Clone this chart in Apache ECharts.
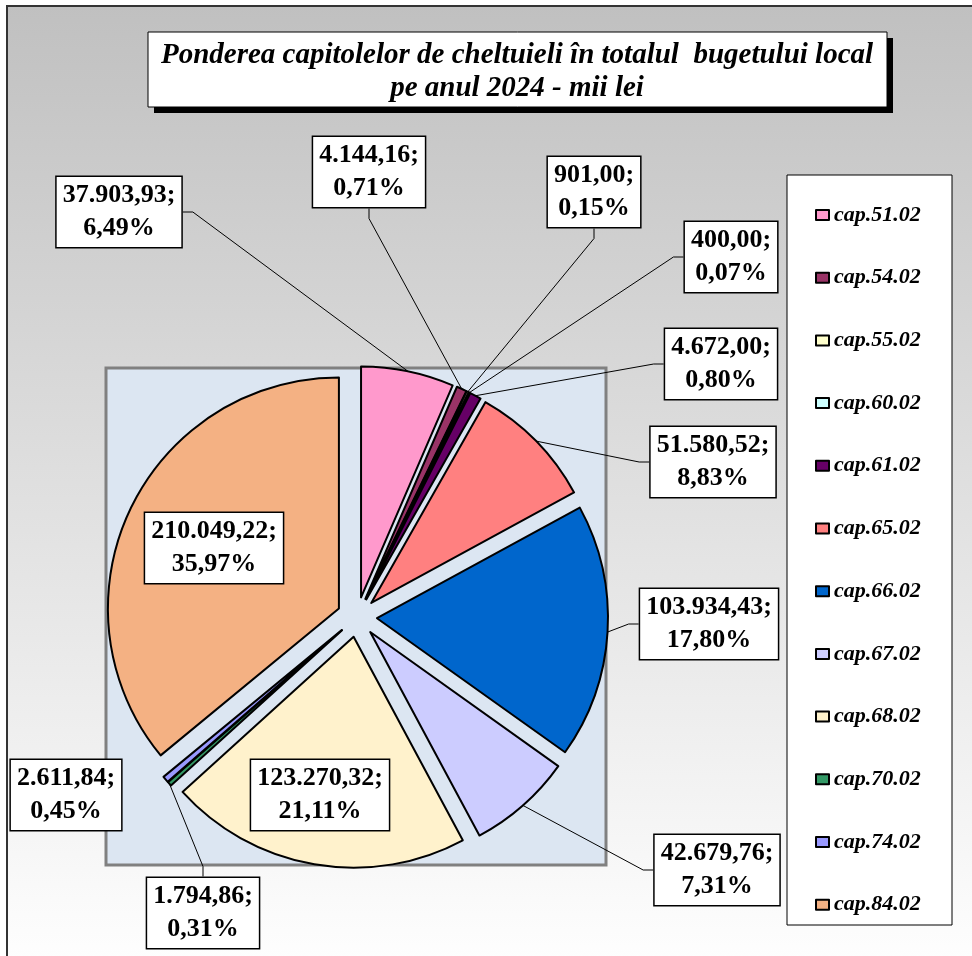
<!DOCTYPE html>
<html>
<head>
<meta charset="utf-8">
<style>
  html, body { margin: 0; padding: 0; background: #fff; }
  #chart { width: 972px; height: 956px; }
</style>
<script src="https://cdn.jsdelivr.net/npm/echarts@6/dist/echarts.min.js"></script>
</head>
<body>
<div id="chart"></div>
<script>
// capitole de cheltuieli, mii lei
const categories = ['cap.51.02', 'cap.54.02', 'cap.55.02', 'cap.60.02', 'cap.61.02', 'cap.65.02',
  'cap.66.02', 'cap.67.02', 'cap.68.02', 'cap.70.02', 'cap.74.02', 'cap.84.02'];
const values = [37903.93, 4144.16, 901.00, 400.00, 4672.00, 51580.52,
  103934.43, 42679.76, 123270.32, 1794.86, 2611.84, 210049.22];
const colors = ['#FF99CC', '#993366', '#FFFFCC', '#CCFFFF', '#660066', '#FF8080',
  '#0066CC', '#CCCCFF', '#FFF2CC', '#339966', '#9999FF', '#F4B183'];

// where each label box sits (centre), like in the original
const labelSpots = [[119, 212], [369, 172], [594, 192], [731, 257], [721, 364], [713, 462],
  [709, 624], [717, 870], [320, 795], [203, 913], [66, 795], [214, 548]];
const insideLabels = [8, 11];
const noLine = [10];

const total = values.reduce(function (a, b) { return a + b }, 0);

function fmtNum(v) {
  const parts = v.toFixed(2).split('.');
  const int = parts[0].replace(/\B(?=(\d{3})+(?!\d))/g, '.');
  return int + ',' + parts[1];
}
function fmtPct(v) {
  return (v / total * 100).toFixed(2).replace('.', ',') + '%';
}

const serif = "'Liberation Serif', 'Times New Roman', serif";
const pieCenter = [357, 617];
const pieR = 231;
const explode = 20;

const chart = echarts.init(document.getElementById('chart'), null, { renderer: 'canvas' });

const option = {
  animation: false,
  backgroundColor: '#fff',
  color: colors,
  graphic: [
    {
      type: 'rect', z: -10,
      shape: { x: 7, y: 6, width: 980, height: 970 },
      style: {
        fill: new echarts.graphic.LinearGradient(0, 0, 0, 1, [
          { offset: 0, color: '#C0C0C0' },
          { offset: 1, color: '#FFFFFF' }
        ]),
        stroke: '#333', lineWidth: 2
      }
    },
    {
      type: 'rect', z: -9,
      shape: { x: 106, y: 368, width: 500, height: 497 },
      style: { fill: '#DCE6F2', stroke: '#808080', lineWidth: 3 }
    },
    {
      type: 'rect', z: -8,
      shape: { x: 787, y: 175, width: 165, height: 750 },
      style: { fill: '#fff', stroke: '#000', lineWidth: 1 }
    },
    {
      type: 'group', z: 50,
      children: [
        { type: 'rect', shape: { x: 154, y: 38, width: 739, height: 75 }, style: { fill: '#000' } },
        { type: 'rect', shape: { x: 148, y: 32, width: 739, height: 75 }, style: { fill: '#fff', stroke: '#000', lineWidth: 1 } },
        {
          type: 'text', x: 517, y: 72,
          style: {
            text: 'Ponderea capitolelor de cheltuieli în totalul  bugetului local\npe anul 2024 - mii lei',
            font: 'italic bold 29px ' + serif,
            lineHeight: 33,
            fill: '#000',
            align: 'center',
            verticalAlign: 'middle'
          }
        }
      ]
    }
  ],
  legend: {
    orient: 'vertical',
    left: 810,
    top: 199,
    icon: 'rect',
    itemWidth: 13,
    itemHeight: 10,
    itemGap: 40.7,
    selectedMode: false,
    data: categories,
    textStyle: {
      fontFamily: serif,
      fontStyle: 'italic',
      fontWeight: 'bold',
      fontSize: 22,
      color: '#000'
    }
  },
  series: [
    {
      // exploded slices
      type: 'pie',
      center: pieCenter,
      radius: pieR,
      startAngle: 90,
      clockwise: true,
      selectedMode: 'multiple',
      selectedOffset: explode,
      minAngle: 0,
      silent: true,
      itemStyle: { borderColor: '#000', borderWidth: 2 },
      select: { itemStyle: { borderColor: '#000', borderWidth: 2 } },
      label: { show: false },
      labelLine: { show: false },
      data: categories.map(function (name, i) {
        return { name: name, value: values[i], selected: true };
      })
    },
    {
      // label carrier: same data, no fill, arc at the exploded rim
      type: 'pie',
      center: pieCenter,
      radius: pieR + explode,
      startAngle: 90,
      clockwise: true,
      silent: true,
      avoidLabelOverlap: false,
      minAngle: 0,
      z: 3,
      itemStyle: { color: 'rgba(0,0,0,0)', borderWidth: 0 },
      label: {
        show: true,
        position: 'outside',
        formatter: function (p) { return fmtNum(p.value) + ';\n' + fmtPct(p.value) },
        fontFamily: serif,
        fontWeight: 'bold',
        fontSize: 26,
        lineHeight: 33,
        color: '#000',
        backgroundColor: '#fff',
        borderColor: '#000',
        borderWidth: 1.5,
        padding: [2, 6],
        align: 'center'
      },
      labelLine: {
        show: true,
        length: 10,
        length2: 10,
        lineStyle: { color: '#000', width: 1 }
      },
      labelLayout: function (params) {
        const p = labelSpots[params.dataIndex];
        return { x: p[0], y: p[1], align: 'center', verticalAlign: 'middle' };
      },
      data: categories.map(function (name, i) {
        const item = { name: name, value: values[i] };
        if (insideLabels.indexOf(i) >= 0) {
          item.label = { position: 'inside' };
          item.labelLine = { show: false };
        }
        if (noLine.indexOf(i) >= 0) item.labelLine = { show: false };
        return item;
      })
    }
  ]
};

chart.setOption(option);
</script>
</body>
</html>
